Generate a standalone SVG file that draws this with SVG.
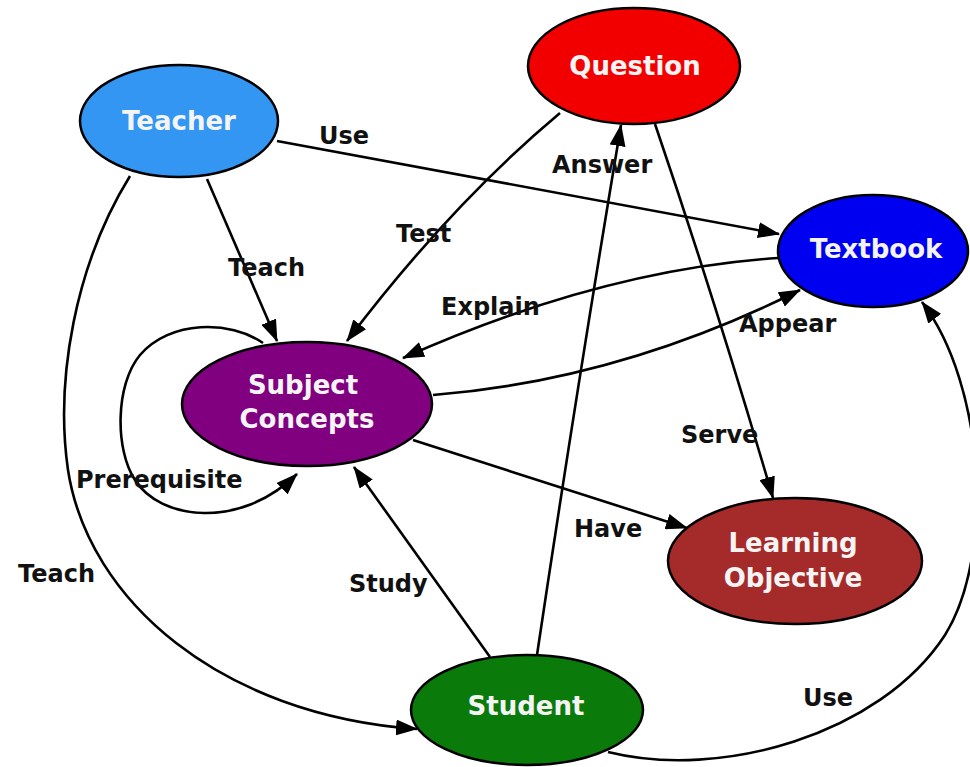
<svg xmlns="http://www.w3.org/2000/svg" width="970" height="767" viewBox="0 0 970 767">
  <defs>
    <marker id="arrow" markerUnits="userSpaceOnUse" markerWidth="22" markerHeight="16" refX="21" refY="8" orient="auto">
      <path d="M0,0 L22,8 L0,16 z" fill="#000"/>
    </marker>
    <style>
      .edge { fill: none; stroke: #000; stroke-width: 2.6; marker-end: url(#arrow); }
      .lbl { font-family: "DejaVu Sans", "Liberation Sans", sans-serif; font-weight: bold; font-size: 24px; fill: #111; }
      .node ellipse { stroke: #000; stroke-width: 2.5; }
      .node text { font-family: "DejaVu Sans", "Liberation Sans", sans-serif; font-weight: bold; font-size: 26px; fill: #f4f4f4; text-anchor: middle; }
    </style>
  </defs>
  <rect width="970" height="767" fill="#fff"/>

  <g id="connectors">
    <!-- Teacher -> Textbook -->
    <path class="edge" d="M277,141 L779,234"/>
    <text class="lbl" x="319" y="144">Use</text>
    <!-- Teacher -> Subject Concepts -->
    <path class="edge" d="M207,179 L277,341"/>
    <text class="lbl" x="228" y="276">Teach</text>
    <!-- Teacher -> Student -->
    <path class="edge" d="M130,176 C75,265 55,380 68,470 C88,600 220,715 417,729"/>
    <text class="lbl" x="18" y="582">Teach</text>
    <!-- Question -> Subject Concepts -->
    <path class="edge" d="M560,113 Q450,205 347,341"/>
    <text class="lbl" x="396" y="242">Test</text>
    <!-- Question -> Learning Objective -->
    <path class="edge" d="M655,124 Q715,300 773,498"/>
    <text class="lbl" x="681" y="443">Serve</text>
    <!-- Student -> Question -->
    <path class="edge" d="M537,655 Q575,400 621,125"/>
    <text class="lbl" x="552" y="173">Answer</text>
    <!-- Student -> Subject Concepts -->
    <path class="edge" d="M490,657 L354,467"/>
    <text class="lbl" x="349" y="592">Study</text>
    <!-- Student -> Textbook -->
    <path class="edge" d="M608,752 C720,780 880,735 945,635 C995,555 985,385 922,302"/>
    <text class="lbl" x="803" y="706">Use</text>
    <!-- Textbook -> Subject Concepts -->
    <path class="edge" d="M778,258 Q600,270 403,358"/>
    <text class="lbl" x="441" y="315">Explain</text>
    <!-- Subject Concepts -> Textbook -->
    <path class="edge" d="M433,395 Q620,380 800,290"/>
    <text class="lbl" x="739" y="332">Appear</text>
    <!-- Subject Concepts -> Learning Objective -->
    <path class="edge" d="M413,440 L687,528"/>
    <text class="lbl" x="574" y="537">Have</text>
    <!-- Subject Concepts self loop -->
    <path class="edge" d="M263,343 C230,320 170,320 140,355 C115,385 115,450 135,480 C160,520 240,530 297,474"/>
    <text class="lbl" x="76" y="488">Prerequisite</text>
  </g>

  <g id="teacher" class="node">
    <ellipse cx="179" cy="121" rx="99" ry="56" fill="#3396f3"/>
    <text x="179" y="130">Teacher</text>
  </g>
  <g id="question" class="node">
    <ellipse cx="634" cy="66" rx="106" ry="58" fill="#f20000"/>
    <text x="635" y="75">Question</text>
  </g>
  <g id="textbook" class="node">
    <ellipse cx="873" cy="251" rx="95" ry="56" fill="#0000f0"/>
    <text x="876" y="258">Textbook</text>
  </g>
  <g id="subject-concepts" class="node">
    <ellipse cx="307" cy="404" rx="125" ry="62" fill="#800080"/>
    <text x="303" y="394">Subject</text>
    <text x="307" y="428">Concepts</text>
  </g>
  <g id="student" class="node">
    <ellipse cx="527" cy="710" rx="116" ry="55" fill="#0a7a0a"/>
    <text x="526" y="715">Student</text>
  </g>
  <g id="learning-objective" class="node">
    <ellipse cx="795" cy="561" rx="127" ry="63" fill="#a52a2a"/>
    <text x="793" y="552">Learning</text>
    <text x="793" y="587">Objective</text>
  </g>
</svg>
